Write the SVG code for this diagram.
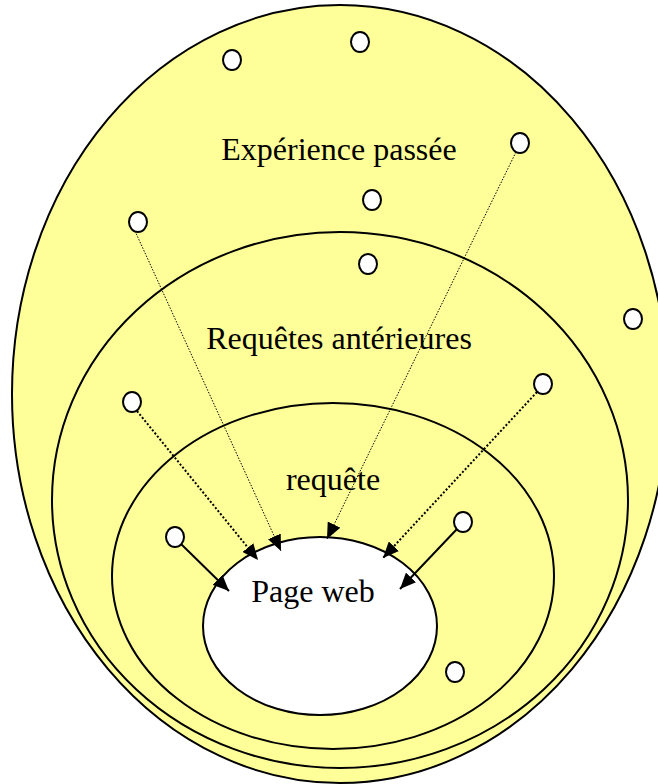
<svg xmlns="http://www.w3.org/2000/svg" width="658" height="784" viewBox="0 0 658 784">
<defs>
<style>
.zone{fill:#FFFF99;stroke:#000;stroke-width:2}
.page{fill:#fff;stroke:#000;stroke-width:2}
.dot{fill:#fff;stroke:#000;stroke-width:2}
.lbl{font-family:"Liberation Serif","Times New Roman",serif;font-size:32px;fill:#000;text-anchor:middle}
.fine{stroke:#000;stroke-width:1;stroke-dasharray:1.5 1.5;fill:none}
.dotted{stroke:#000;stroke-width:2;stroke-dasharray:2 2;fill:none}
.solid{stroke:#000;stroke-width:2;fill:none}
</style>
<marker id="ah" markerUnits="userSpaceOnUse" markerWidth="18" markerHeight="14" refX="16" refY="7" orient="auto">
<path d="M0,0 L16,7 L0,14 Z" fill="#000"/>
</marker>
</defs>
<g id="experience">
<ellipse class="zone" cx="340" cy="394" rx="328" ry="389"/>
<text class="lbl" x="339" y="160">Expérience passée</text>
</g>
<g id="anterieures">
<ellipse class="zone" cx="340" cy="500" rx="288" ry="268"/>
<text class="lbl" x="339" y="349">Requêtes antérieures</text>
</g>
<g id="requete">
<ellipse class="zone" cx="333" cy="576" rx="221" ry="173"/>
<text class="lbl" x="333" y="490">requête</text>
</g>
<g id="page">
<ellipse class="page" cx="320" cy="626" rx="117" ry="89"/>
<text class="lbl" x="313" y="602">Page web</text>
</g>
<g id="items">
<ellipse class="dot" cx="232" cy="60" rx="9" ry="10"/>
<ellipse class="dot" cx="360" cy="42" rx="9" ry="10"/>
<ellipse class="dot" cx="520" cy="143" rx="9" ry="10"/>
<ellipse class="dot" cx="372" cy="200" rx="9" ry="10"/>
<ellipse class="dot" cx="138" cy="222" rx="9" ry="10"/>
<ellipse class="dot" cx="368" cy="264" rx="9" ry="10"/>
<ellipse class="dot" cx="633" cy="319" rx="9" ry="10"/>
<ellipse class="dot" cx="132" cy="402" rx="9" ry="10"/>
<ellipse class="dot" cx="543" cy="384" rx="9" ry="10"/>
<ellipse class="dot" cx="175" cy="537" rx="9" ry="10"/>
<ellipse class="dot" cx="463" cy="522" rx="9" ry="10"/>
<ellipse class="dot" cx="455" cy="672" rx="9" ry="10"/>
</g>
<g id="connectors">
<line class="fine" x1="135" y1="231" x2="281" y2="551" marker-end="url(#ah)"/>
<line class="fine" x1="516" y1="152" x2="327" y2="539" marker-end="url(#ah)"/>
<line class="dotted" x1="137" y1="411" x2="258" y2="560" marker-end="url(#ah)"/>
<line class="dotted" x1="537" y1="392" x2="383" y2="558" marker-end="url(#ah)"/>
<line class="solid" x1="181" y1="544" x2="229" y2="591" marker-end="url(#ah)"/>
<line class="solid" x1="457" y1="529" x2="400" y2="589" marker-end="url(#ah)"/>
</g>
</svg>
